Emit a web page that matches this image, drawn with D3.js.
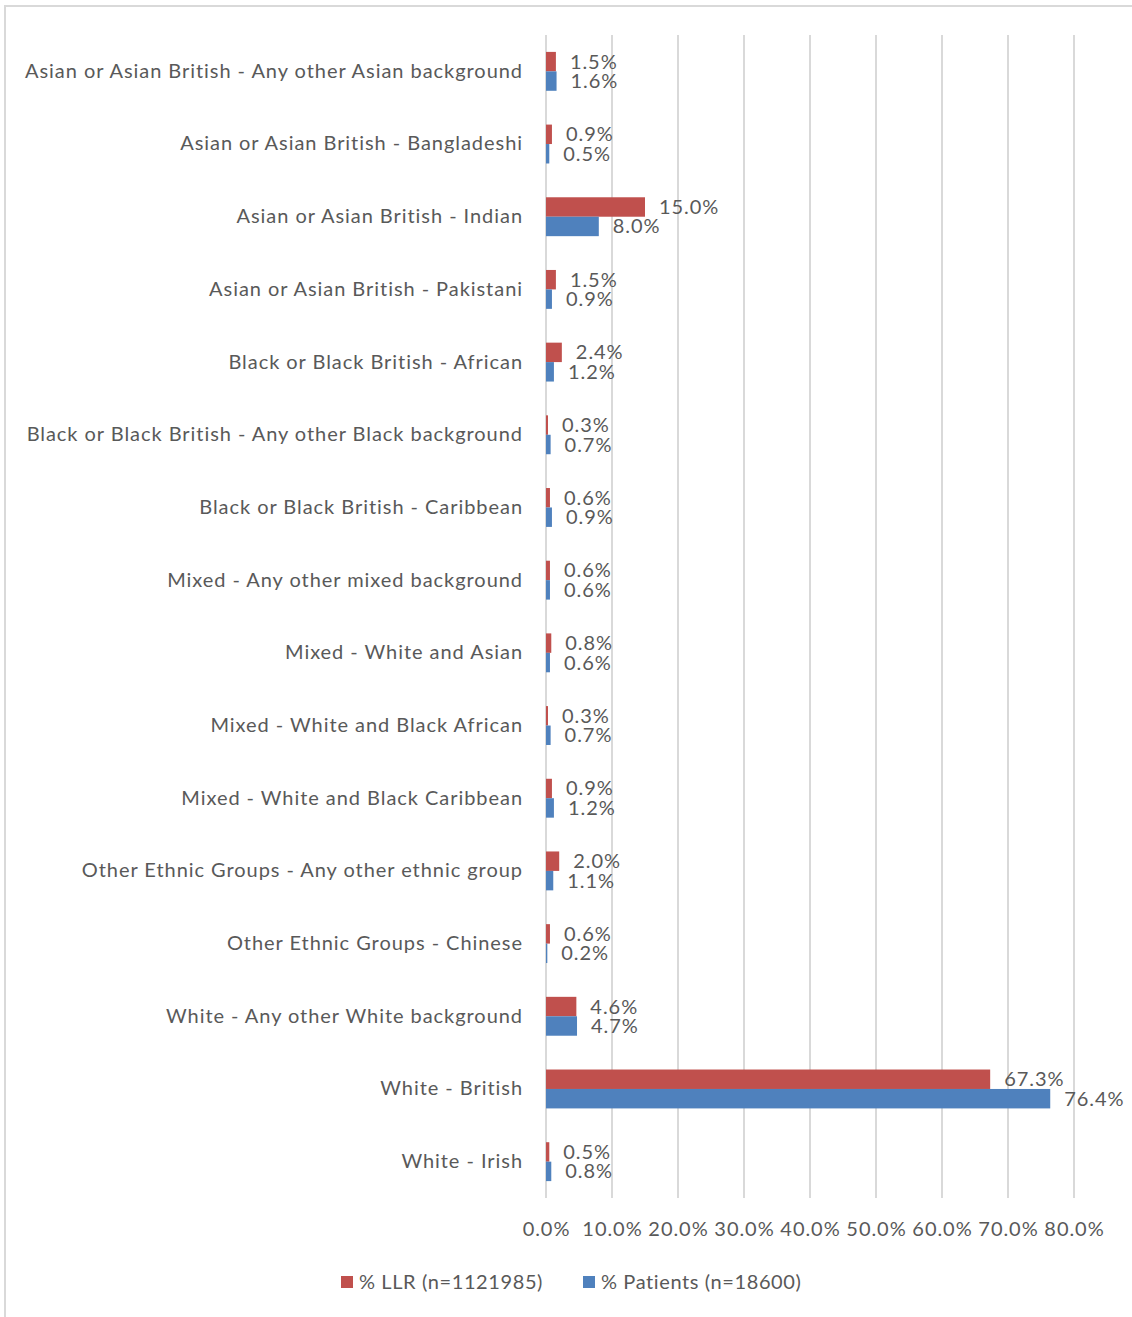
<!DOCTYPE html>
<html>
<head>
<meta charset="utf-8">
<script src="https://cdn.jsdelivr.net/npm/d3@7"></script>
<style>
  html, body { margin: 0; padding: 0; background: #fff; }
  svg { display: block; }
  text { font-family: Lato, "Liberation Sans", sans-serif; fill: #595959; letter-spacing: 0.95px; }
</style>
</head>
<body>
<svg id="chart" width="1132" height="1317"></svg>
<script>
// Ethnic group breakdown: LLR population vs patients
const categories = [
  "Asian or Asian British - Any other Asian background",
  "Asian or Asian British - Bangladeshi",
  "Asian or Asian British - Indian",
  "Asian or Asian British - Pakistani",
  "Black or Black British - African",
  "Black or Black British - Any other Black background",
  "Black or Black British - Caribbean",
  "Mixed - Any other mixed background",
  "Mixed - White and Asian",
  "Mixed - White and Black African",
  "Mixed - White and Black Caribbean",
  "Other Ethnic Groups - Any other ethnic group",
  "Other Ethnic Groups - Chinese",
  "White - Any other White background",
  "White - British",
  "White - Irish"
];
const llrValues =      [1.5, 0.9, 15.0, 1.5, 2.4, 0.3, 0.6, 0.6, 0.8, 0.3, 0.9, 2.0, 0.6, 4.6, 67.3, 0.5];
const patientValues =  [1.6, 0.5, 8.0, 0.9, 1.2, 0.7, 0.9, 0.6, 0.6, 0.7, 1.2, 1.1, 0.2, 4.7, 76.4, 0.8];
const seriesNames = ["% LLR (n=1121985)", "% Patients (n=18600)"];
const seriesColors = ["#C0504D", "#4F81BD"];
const xTicks = [0, 10, 20, 30, 40, 50, 60, 70, 80];

const svg = d3.select("#chart");
const W = 1132, H = 1317;
const FONT = "Lato, 'Liberation Sans', sans-serif";

// outer chart frame
svg.append("rect")
  .attr("x", 5).attr("y", 6)
  .attr("width", W + 10).attr("height", H + 10)
  .attr("fill", "#fff").attr("stroke", "#d9d9d9").attr("stroke-width", 2);

const plot = { left: 546, right: 1074, top: 35, bottom: 1198 };

const x = d3.scaleLinear().domain([0, 80]).range([plot.left, plot.right]);
const y = d3.scaleBand().domain(categories).range([plot.top, plot.bottom]).paddingInner(0.465).paddingOuter(0.2325);
const sub = d3.scaleBand().domain([0, 1]).range([0, y.bandwidth()]);

// vertical gridlines
svg.append("g").selectAll("line").data(xTicks).join("line")
  .attr("x1", d => x(d)).attr("x2", d => x(d))
  .attr("y1", plot.top).attr("y2", plot.bottom)
  .attr("stroke", "#d9d9d9").attr("stroke-width", 2);

// x axis tick labels
const xAxis = d3.axisBottom(x).tickValues(xTicks).tickSize(0).tickPadding(0)
  .tickFormat(d => d.toFixed(1) + "%");
const gx = svg.append("g").attr("transform", `translate(0, 1236)`).call(xAxis);
gx.select(".domain").remove();
gx.selectAll("text").attr("dy", 0).attr("font-size", 20).attr("fill", "#595959")
  .attr("font-family", FONT);

// category labels
const yAxis = d3.axisLeft(y).tickSize(0).tickPadding(0);
const gy = svg.append("g").attr("transform", `translate(523, 0)`).call(yAxis);
gy.select(".domain").remove();
gy.selectAll("text").attr("font-size", 20).attr("fill", "#595959")
  .attr("font-family", FONT);

// bars and value labels
const series = [llrValues, patientValues];
series.forEach((vals, si) => {
  const g = svg.append("g");
  g.selectAll("rect").data(vals).join("rect")
    .attr("x", x(0))
    .attr("y", (d, i) => y(categories[i]) + sub(si))
    .attr("width", d => x(d) - x(0))
    .attr("height", sub.bandwidth())
    .attr("fill", seriesColors[si]);
  g.selectAll("text").data(vals).join("text")
    .attr("x", d => x(d) + 14)
    .attr("y", (d, i) => y(categories[i]) + sub(si) + sub.bandwidth() / 2)
    .attr("dy", "0.35em")
    .attr("font-size", 20)
    .text(d => d.toFixed(1) + "%");
});

// legend
const legendX = [341, 583];
const lg = svg.append("g");
seriesNames.forEach((name, i) => {
  lg.append("rect").attr("x", legendX[i]).attr("y", 1276).attr("width", 12).attr("height", 12)
    .attr("fill", seriesColors[i]);
  lg.append("text").attr("x", legendX[i] + 18).attr("y", 1282).attr("dy", "0.35em")
    .attr("font-size", 20).style("letter-spacing", "0.6px").text(name);
});
</script>
</body>
</html>
